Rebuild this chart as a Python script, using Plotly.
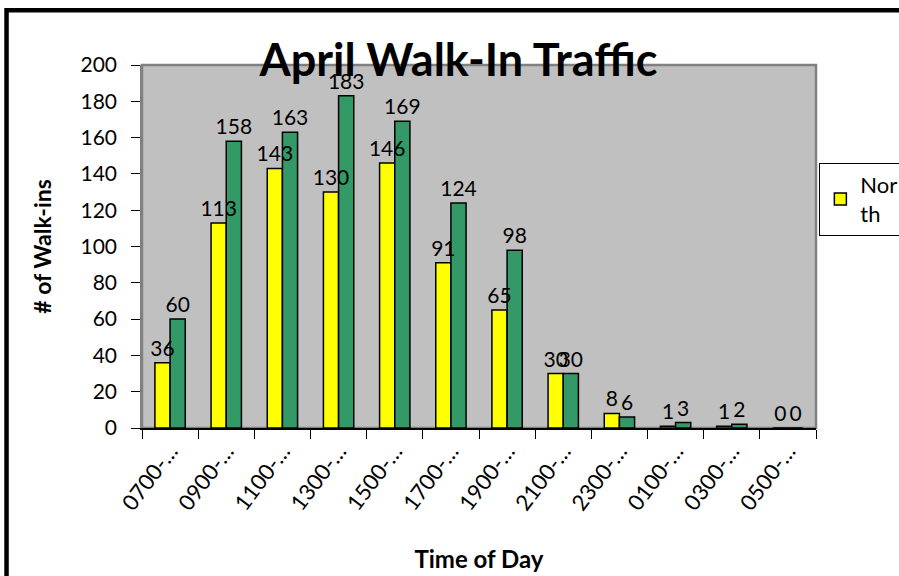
import plotly.graph_objects as go

slots = ["0700-…", "0900-…", "1100-…", "1300-…", "1500-…", "1700-…",
         "1900-…", "2100-…", "2300-…", "0100-…", "0300-…", "0500-…"]
north = [36, 113, 143, 130, 146, 91, 65, 30, 8, 1, 1, 0]
south = [60, 158, 163, 183, 169, 124, 98, 30, 6, 3, 2, 0]

fnt = "Lato, Open Sans, sans-serif"
lbl = dict(size=21, color="black")

fig = go.Figure()
fig.add_trace(go.Bar(x=slots, y=north, name="Nor<br>th", offsetgroup="n",
                     marker_color="#FFFF00", marker_line=dict(color="black", width=1.5)))
fig.add_trace(go.Bar(x=slots, y=south, name="South", offsetgroup="s", showlegend=False,
                     marker_color="#339966", marker_line=dict(color="black", width=1.5)))
# value labels drawn on top of both series (so the green bars don't hide them)
for vals, grp in [(north, "n"), (south, "s")]:
    fig.add_trace(go.Bar(x=slots, y=vals, offsetgroup=grp, showlegend=False,
                         marker_color="rgba(0,0,0,0)", marker_line_width=0,
                         text=vals, textposition="outside", cliponaxis=False,
                         constraintext="none", textfont=lbl, hoverinfo="skip"))

fig.update_layout(
    width=899, height=576,
    margin=dict(l=142, r=83, t=65, b=148, autoexpand=False),
    paper_bgcolor="white", plot_bgcolor="#C0C0C0",
    font=dict(family=fnt, size=21, color="black"),
    barmode="group", bargap=0.46, bargroupgap=0,
    title=dict(text="<b>April Walk-In Traffic</b>", x=0.51, xanchor="center",
               y=0.896, yanchor="middle", font=dict(size=45)),
    showlegend=True,
    legend=dict(x=1.005, y=0.73, xanchor="left", yanchor="top",
                bordercolor="black", borderwidth=1, bgcolor="white",
                font=dict(size=22), itemwidth=30, tracegroupgap=0),
)
fig.update_xaxes(
    automargin=False,
    showline=True, linecolor="black", linewidth=1.5, mirror=False,
    ticks="outside", tickson="boundaries", ticklen=9, tickcolor="black",
    tickangle=-53, tickfont=dict(size=22),
    title=dict(text="<b>Time of Day</b>", font=dict(size=24), standoff=37),
)
fig.update_yaxes(
    automargin=False,
    range=[0, 200], dtick=20, showgrid=False, zeroline=False,
    showline=True, linecolor="#808080", linewidth=1.5,
    ticks="outside", ticklen=9, tickcolor="black", ticklabelstandoff=10,
    title=dict(text="<b># of Walk-ins</b>", font=dict(size=23), standoff=22),
)
# grey border around the plot area
fig.add_shape(type="rect", xref="paper", yref="paper",
              x0=0, x1=1, y0=0, y1=1,
              line=dict(color="#808080", width=2.5), layer="below")
# black outer frame of the chart
fig.add_shape(type="rect", xref="paper", yref="paper",
              x0=-0.201, x1=1.3, y0=-0.6, y1=1.151,
              line=dict(color="black", width=4.5), layer="above")
fig.write_html("out.html", config={"displayModeBar": False},
               post_script="document.body.style.margin = '0';")
